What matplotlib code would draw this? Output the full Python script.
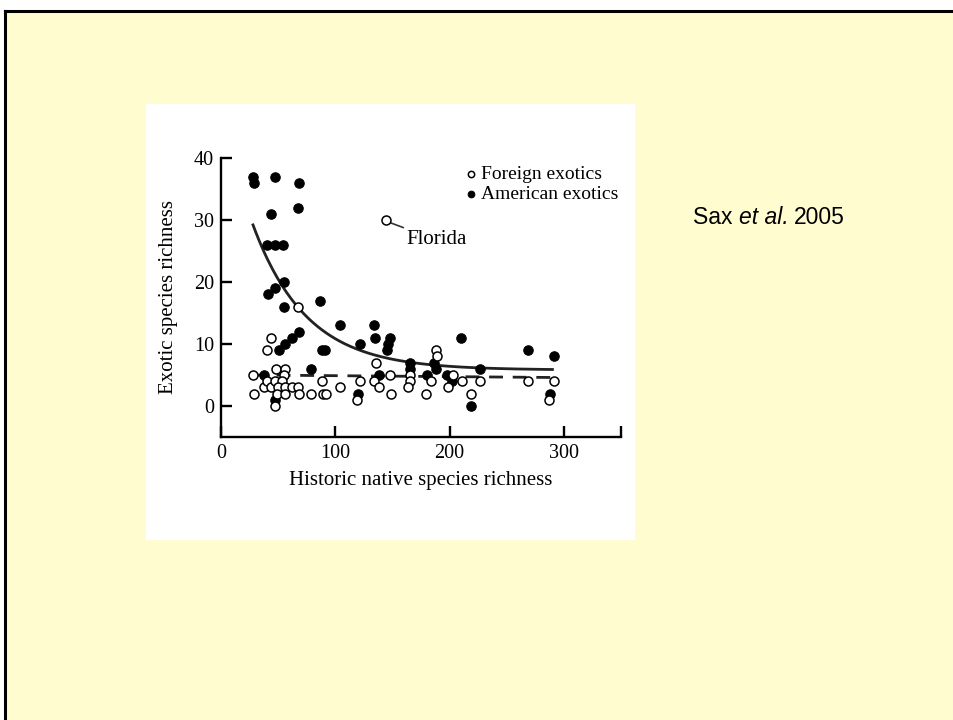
import matplotlib.pyplot as plt
import numpy as np
from matplotlib.patches import Rectangle

# Foreign exotics (open circles)
foreign_x = [28, 29, 38, 40, 44, 48, 56, 55, 47, 53, 50, 56, 62, 67, 49, 56, 68, 79, 89, 88, 47, 44, 40, 67,
             104, 122, 134, 136, 138, 148, 149, 119, 92, 165, 165, 164, 179, 184, 188, 189, 199, 203, 211,
             219, 227, 269, 291, 287, 144]
foreign_y = [5, 2, 3, 4, 3, 6, 6, 5, 4, 4, 3, 3, 3, 3, 2, 2, 2, 2, 2, 4, 0, 11, 9, 16,
             3, 4, 4, 7, 3, 5, 2, 1, 2, 5, 4, 3, 2, 4, 9, 8, 3, 5, 4,
             2, 4, 4, 4, 1, 30]

# American exotics (filled circles)
american_x = [28, 29, 47, 68, 44, 67, 40, 47, 54, 55, 47, 41, 55, 87, 68, 62, 56, 51, 88, 91,
              104, 134, 135, 122, 148, 146, 145, 38, 47, 79, 138, 120, 165, 165, 180, 186, 188,
              198, 202, 210, 219, 227, 269, 291, 288]
american_y = [37, 36, 37, 36, 31, 32, 26, 26, 26, 20, 19, 18, 16, 17, 12, 11, 10, 9, 9, 9,
              13, 13, 11, 10, 11, 10, 9, 5, 1, 6, 5, 2, 7, 6, 5, 7, 6,
              5, 4, 11, 0, 6, 9, 8, 2]

# fitted lines
fit_start, fit_end = 28, 290
curve_base, curve_amp, curve_rate = 5.8, 42.5, 0.0213
dash_start_y, dash_end_y = 5.0, 4.6

fig = plt.figure(figsize=(9.54, 7.2), dpi=100)
fig.patch.set_facecolor('white')

# slide background and border
fig.patches.append(Rectangle((5/954, 0), 1, 1 - 11/720, transform=fig.transFigure,
                             facecolor='#fffdd0', edgecolor='none', zorder=0))
fig.lines.append(plt.Line2D([5/954, 5/954], [0, 1 - 10.5/720], transform=fig.transFigure,
                            color='black', lw=2.2))
fig.lines.append(plt.Line2D([5/954, 1], [1 - 10.5/720, 1 - 10.5/720], transform=fig.transFigure,
                            color='black', lw=2.2))
# white picture panel
fig.patches.append(Rectangle((146/954, 1 - 540/720), (635-146)/954, (540-104)/720,
                             transform=fig.transFigure, facecolor='white', edgecolor='none', zorder=1))

serif = 'Liberation Serif'
ax = fig.add_axes([221/954, 1 - 437/720, 400/954, 279/720])
ax.set_zorder(5)
ax.patch.set_visible(False)

ax.scatter(american_x, american_y, s=46, facecolor='black', edgecolor='black', lw=0.8,
           zorder=3, label='American exotics')
ax.scatter(foreign_x, foreign_y, s=42, facecolor='white', edgecolor='black', lw=1.1,
           zorder=4, label='Foreign exotics')

xs = np.linspace(fit_start, fit_end, 200)
ax.plot(xs, curve_base + curve_amp * np.exp(-curve_rate * xs), color='#222222', lw=2.0, zorder=2)
ax.plot([fit_start, fit_end], [dash_start_y, dash_end_y], color='#222222', lw=2.0,
        ls=(0, (5, 3.5)), zorder=2)

ax.annotate('Florida', xy=(147.5, 29.6), xytext=(162, 26.8), fontsize=15, family=serif,
            va='center', ha='left',
            arrowprops=dict(arrowstyle='-', color='#333333', lw=1.2, shrinkA=0, shrinkB=1))

ax.set_xlim(0, 350)
ax.set_ylim(-5, 40)
ax.spines['top'].set_visible(False)
ax.spines['right'].set_visible(False)
ax.spines['left'].set_linewidth(1.7)
ax.spines['bottom'].set_linewidth(1.7)
ax.set_xticks([0, 100, 200, 300, 350])
ax.set_xticklabels(['0', '100', '200', '300', ''])
ax.set_yticks([0, 10, 20, 30, 40])
ax.tick_params(direction='in', length=8, width=1.7, labelsize=14.5, pad=5)
for lab in ax.get_xticklabels() + ax.get_yticklabels():
    lab.set_family(serif)

ax.set_xlabel('Historic native species richness', fontsize=15, family=serif, labelpad=6)
ax.set_ylabel('Exotic species richness', fontsize=15, family=serif)
ax.yaxis.set_label_coords(-0.107, 0.50)

handles, labels = ax.get_legend_handles_labels()
leg = ax.legend(handles[::-1], labels[::-1], loc='upper left', frameon=False,
                bbox_to_anchor=(456/954, 1 - 156/720), bbox_transform=fig.transFigure,
                borderpad=0, handlelength=0.5, handletextpad=0.3, labelspacing=0.12,
                markerscale=0.7, prop={'family': serif, 'size': 14})

# citation text with italic "et al."
ty = 1 - 218/720
cite_size = 16.5
t1 = fig.text(693/954, ty, 'Sax ', fontsize=cite_size, family='Liberation Sans', va='center')
fig.canvas.draw()
r = fig.canvas.get_renderer()
bb = t1.get_window_extent(r)
t2 = fig.text(bb.x1/954, ty, 'et al.', fontsize=cite_size, family='Liberation Sans',
              style='italic', va='center')
bb2 = t2.get_window_extent(r)
fig.text(bb2.x1/954 + 5/954, ty, '2005', fontsize=cite_size, family='Liberation Sans', va='center')

fig.savefig('out.png', dpi=100)
